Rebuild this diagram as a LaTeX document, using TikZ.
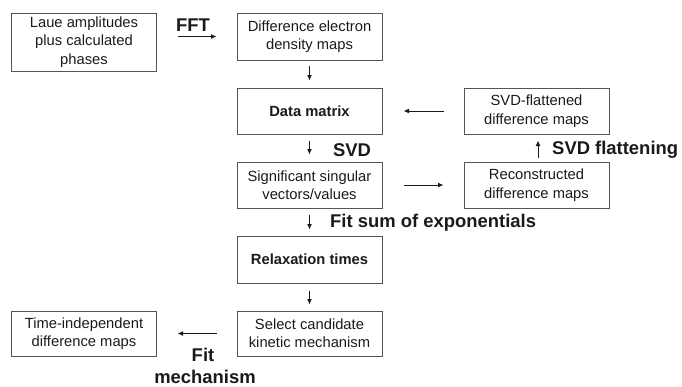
\documentclass[tikz,border=0pt]{standalone}
\usepackage{fontspec}
\setmainfont{Liberation Sans}
\usetikzlibrary{arrows.meta}
\definecolor{boxline}{HTML}{555555}
\definecolor{txt}{HTML}{1A1A1A}
\begin{document}
\begin{tikzpicture}[x=1bp,y=-1bp,
  box/.style={draw=boxline,line width=1bp,minimum width=145bp,minimum height=46bp,
    inner sep=0pt,align=center,text=txt,font=\fontsize{14.8}{18.5}\selectfont},
  boldbox/.style={box,font=\fontsize{14.8}{18.5}\selectfont\bfseries},
  lbl/.style={inner sep=0pt,text=txt,font=\fontsize{18.5}{22}\selectfont\bfseries},
  arr/.style={draw=txt,line width=1bp,-{Latex[length=5.5bp,width=5bp]}}]
\useasboundingbox (0,0) rectangle (682,386);
\node[box,minimum width=144bp,minimum height=58bp] (laue) at (84,42) {Laue amplitudes\\plus calculated\\phases};
\node[box,minimum height=47bp] (diff) at (309.5,36.5) {Difference electron\\density maps};
\node[boldbox] (data) at (309.5,111) {Data matrix};
\node[box] (sig) at (309.5,185) {Significant singular\\vectors/values};
\node[boldbox,minimum height=47bp] (relax) at (309.5,259.5) {Relaxation times};
\node[box,minimum height=45bp] (select) at (309.5,333.5) {Select candidate\\kinetic mechanism};
\node[box,minimum width=144bp,minimum height=45bp] (time) at (84,333.5) {Time-independent\\difference maps};
\node[box] (flat) at (536.5,111) {SVD-flattened\\difference maps};
\node[box] (recon) at (536.5,185) {Reconstructed\\difference maps};

\draw[arr,shorten <=21bp,shorten >=20bp] (laue.east |- diff.west) -- (diff.west);
\draw[arr,shorten <=5bp,shorten >=7bp] (diff.south) -- (data.north);
\draw[arr,shorten <=6bp,shorten >=7bp] (data.south) -- (sig.north);
\draw[arr,shorten <=6bp,shorten >=6bp] (sig.south) -- (relax.north);
\draw[arr,shorten <=7bp,shorten >=6bp] (relax.south) -- (select.north);
\draw[arr,shorten <=20bp,shorten >=21bp] (select.west) -- (time.east);
\draw[arr,shorten <=21bp,shorten >=20bp] (sig.east) -- (recon.west);
\draw[arr,shorten <=4bp,shorten >=6bp] ([xshift=1.5bp]recon.north) -- ([xshift=1.5bp]flat.south);
\draw[arr,shorten <=20bp,shorten >=21bp] (flat.west) -- (data.east);

\node[lbl] (fft) at (193,25) {FFT};
\node[lbl] (svd) at (352,150) {SVD};
\node[lbl,anchor=west] (svdf) at (552,150) {SVD flattening};
\node[lbl,anchor=west] (fitsum) at (330,223) {Fit sum of exponentials};
\node[lbl] (fit) at (203,355) {Fit};
\node[lbl] (mech) at (205,377) {mechanism};
\end{tikzpicture}
\end{document}
